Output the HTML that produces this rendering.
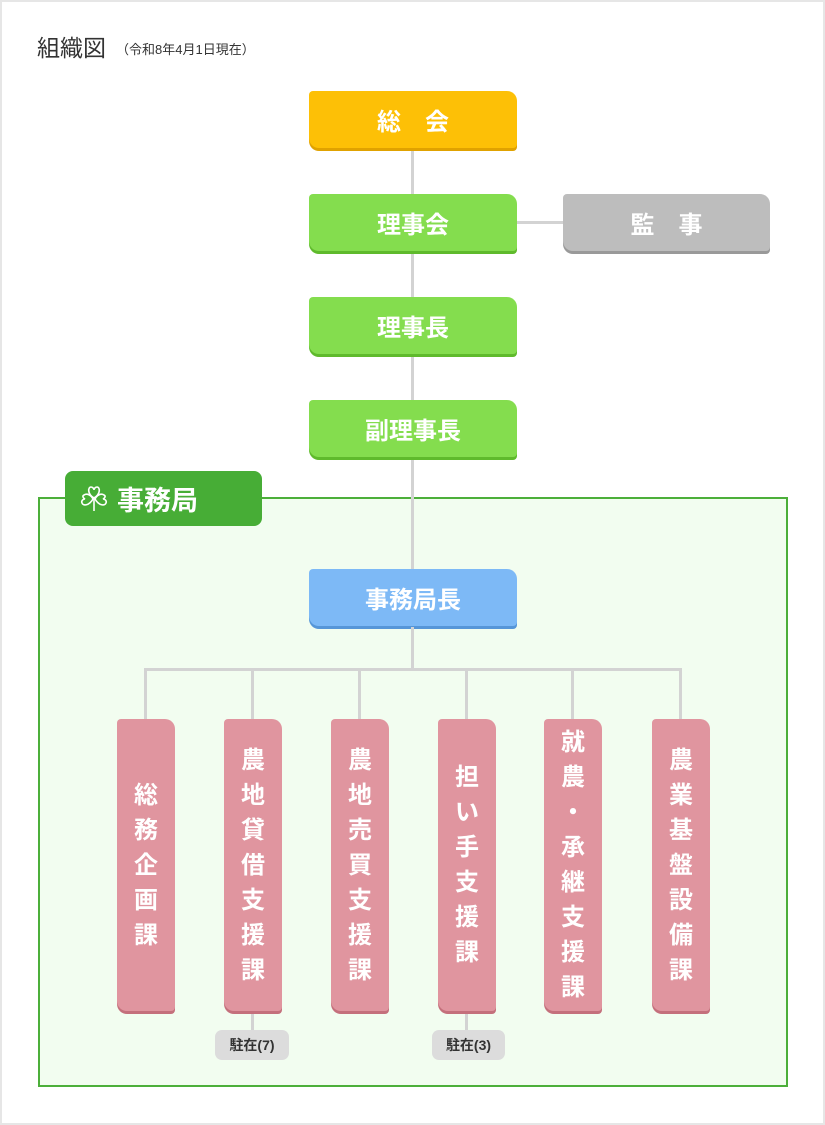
<!DOCTYPE html>
<html><head><meta charset="utf-8"><style>
*{margin:0;padding:0;box-sizing:border-box}
body{width:825px;height:1125px;background:#fff;position:relative;overflow:hidden;font-family:"Liberation Sans","Noto Sans CJK JP",sans-serif}
.frame{position:absolute;left:0;top:0;width:825px;height:1125px;border:2px solid #e6e6e6}
.a{position:absolute}
.ln{position:absolute;background:#d3d3d3}
.bx{position:absolute;color:#fff;font-weight:bold;font-size:24px;display:flex;align-items:center;justify-content:center;border-radius:4px 10px 4px 10px}
.pk{position:absolute;width:58px;top:719px;height:292px;background:#e0959f;box-shadow:0 3px 0 #c4707c;border-radius:4px 10px 4px 10px;color:#fff;font-weight:bold;font-size:24px;line-height:35px;display:flex;flex-direction:column;align-items:center;justify-content:center;text-align:center}
.st{position:absolute;top:1030px;height:30px;background:#dcdcdc;border-radius:7px;font-size:14px;font-weight:bold;color:#333;display:flex;align-items:center;justify-content:center}
</style></head><body>
<div class="frame"></div>
<div class="a" style="left:37px;top:29px;font-size:23px;color:#333">組織図</div>
<div class="a" style="left:116px;top:39px;font-size:13px;color:#333">（令和8年4月1日現在）</div>

<div class="ln" style="left:411px;top:149px;width:3px;height:421px"></div>
<div class="ln" style="left:517px;top:221px;width:46px;height:3px"></div>

<div class="a" style="left:38px;top:497px;width:750px;height:590px;border:2px solid #4caf3a;background:#f2fdf0"></div>
<div class="ln" style="left:411px;top:490px;width:3px;height:80px"></div>

<div class="bx" style="left:309px;top:91px;width:208px;height:57px;background:#fdc006;box-shadow:0 3px 0 #e0a200">総　会</div>
<div class="bx" style="left:309px;top:194px;width:208px;height:57px;background:#84dd4e;box-shadow:0 3px 0 #5fba2c">理事会</div>
<div class="bx" style="left:563px;top:194px;width:207px;height:57px;background:#bdbdbd;box-shadow:0 3px 0 #999">監　事</div>
<div class="bx" style="left:309px;top:297px;width:208px;height:57px;background:#84dd4e;box-shadow:0 3px 0 #5fba2c">理事長</div>
<div class="bx" style="left:309px;top:400px;width:208px;height:57px;background:#84dd4e;box-shadow:0 3px 0 #5fba2c">副理事長</div>

<div class="a" style="left:65px;top:471px;width:197px;height:55px;background:#47ad36;border-radius:8px;color:#fff;font-weight:bold;font-size:27px;display:flex;align-items:center;padding-left:14px">
<svg width="30" height="30" viewBox="0 0 30 30" fill="none" stroke="#fff" stroke-width="1.6"><path d="M15 14 C8 10 9 3 12 3 C14 3 15 5 15 6 C15 5 16 3 18 3 C21 3 22 10 15 14Z"/><path d="M14 15 C10 22 4 22 3 19 C2 17 4 15 6 15 C4 14 3 12 5 11 C8 9 12 11 14 15Z"/><path d="M16 15 C20 22 26 22 27 19 C28 17 26 15 24 15 C26 14 27 12 25 11 C22 9 18 11 16 15Z"/><path d="M15 14 L15 27"/></svg>
<span style="margin-left:8px">事務局</span></div>

<div class="bx" style="left:309px;top:569px;width:208px;height:57px;background:#7db9f6;box-shadow:0 3px 0 #5696d8">事務局長</div>

<div class="ln" style="left:411px;top:627px;width:3px;height:43px"></div>
<div class="ln" style="left:144px;top:668px;width:538px;height:3px"></div>
<div class="ln" style="left:144px;top:668px;width:3px;height:51px"></div>
<div class="ln" style="left:251px;top:668px;width:3px;height:51px"></div>
<div class="ln" style="left:358px;top:668px;width:3px;height:51px"></div>
<div class="ln" style="left:465px;top:668px;width:3px;height:51px"></div>
<div class="ln" style="left:571px;top:668px;width:3px;height:51px"></div>
<div class="ln" style="left:679px;top:668px;width:3px;height:51px"></div>
<div class="ln" style="left:251px;top:1011px;width:3px;height:20px"></div>
<div class="ln" style="left:465px;top:1011px;width:3px;height:20px"></div>

<div class="pk" style="left:117px">総<br>務<br>企<br>画<br>課</div>
<div class="pk" style="left:224px">農<br>地<br>貸<br>借<br>支<br>援<br>課</div>
<div class="pk" style="left:331px">農<br>地<br>売<br>買<br>支<br>援<br>課</div>
<div class="pk" style="left:438px">担<br>い<br>手<br>支<br>援<br>課</div>
<div class="pk" style="left:544px">就<br>農<br>・<br>承<br>継<br>支<br>援<br>課</div>
<div class="pk" style="left:652px">農<br>業<br>基<br>盤<br>設<br>備<br>課</div>

<div class="st" style="left:215px;width:74px">駐在(7)</div>
<div class="st" style="left:432px;width:73px">駐在(3)</div>
</body></html>
